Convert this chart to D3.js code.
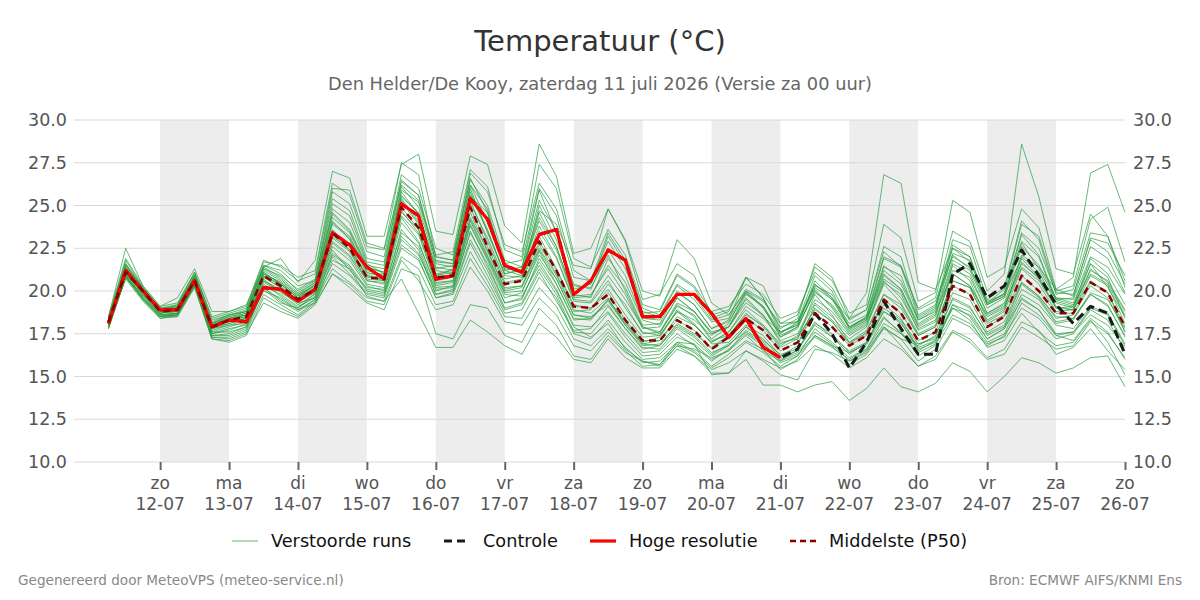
<!DOCTYPE html>
<html>
<head>
<meta charset="utf-8">
<script src="https://cdn.jsdelivr.net/npm/d3@7"></script>
<style>
  body { margin: 0; background: #fff; font-family: "DejaVu Sans", sans-serif; }
</style>
</head>
<body>
<div id="chart"></div>
<script>
// 6-hourly steps, first value 11-07 06:00 UTC
var firstTime = Date.UTC(2026, 6, 11, 6);
var stepHours = 6;

var hres = [18.1, 21.2, 20.0, 18.9, 18.9, 20.6, 17.9, 18.3, 18.2, 20.2, 20.1, 19.4, 20.1, 23.4, 22.7, 21.4, 20.7, 25.1, 24.4, 20.7,
  20.9, 25.4, 24.2, 21.5, 21.1, 23.3, 23.6, 19.8, 20.6, 22.4, 21.8, 18.5, 18.5, 19.8, 19.8, 18.7, 17.3, 18.4, 16.7, 16.1];

var control = [18.1, 21.2, 20.0, 18.9, 18.9, 20.6, 17.9, 18.3, 18.2, 20.2, 20.1, 19.4, 20.1, 23.4, 22.7, 21.4, 20.7, 25.1, 24.4, 20.7,
  20.9, 25.4, 24.2, 21.5, 21.1, 23.3, 23.6, 19.8, 20.6, 22.4, 21.8, 18.5, 18.5, 19.8, 19.8, 18.7, 17.3, 18.4, 16.7, 16.1,
  16.6, 18.7, 17.5, 15.5, 17.0, 19.4, 17.8, 16.3, 16.3, 21.0, 21.6, 19.6, 20.3, 22.4, 20.9, 19.2, 18.1, 19.1, 18.7, 16.3];

var p50 = [18.2, 21.1, 20.0, 18.8, 18.9, 20.6, 17.9, 18.3, 18.5, 20.9, 20.3, 19.5, 20.1, 23.4, 22.5, 20.8, 20.7, 24.9, 23.7, 20.8,
  20.9, 24.9, 22.6, 20.4, 20.6, 22.9, 21.2, 19.1, 19.0, 19.8, 18.3, 17.1, 17.1, 18.3, 17.7, 16.6, 17.3, 18.4, 17.7, 16.5,
  17.0, 18.7, 17.9, 16.8, 17.4, 19.5, 18.7, 17.1, 17.6, 20.3, 19.8, 17.9, 18.5, 20.9, 20.0, 18.7, 18.7, 20.5, 19.9, 17.9];

// perturbed members (Verstoorde runs)
var runs = [
  [18.3,21.4,20.1, 18.9,19.0,20.8,18.0, 18.2,18.4,21.2,20.6, 19.8,20.3,24.1,23.0, 21.0,21.0,25.6,24.5, 21.2,21.0,25.8,23.6, 20.9,20.8,23.5,21.9, 19.4,19.3,20.6,19.0, 17.6,17.4,18.9,18.1, 16.9,17.0,18.0,17.4, 16.2,16.8,19.2,18.3, 17.2,17.9,20.4,19.3, 17.5,18.0,21.5,20.6, 18.3,18.9,22.0,21.1, 19.3,19.0,21.6,20.8, 18.4],
  [18.1,21.0,19.8, 18.7,18.8,20.5,17.7, 18.0,18.1,20.6,20.0, 19.2,19.8,22.8,22.0, 20.4,20.2,24.0,22.8, 20.3,20.5,24.1,22.0, 19.9,20.0,22.1,20.7, 18.6,18.5,19.2,17.8, 16.7,16.6,17.8,17.1, 16.2,16.8,17.9,17.2, 16.1,16.5,18.1,17.5, 16.4,16.9,18.8,18.1, 16.7,17.1,19.6,19.1, 17.4,17.9,20.1,19.5, 18.1,18.3,19.8,19.2, 17.3],
  [18.4,21.8,20.2, 19.0,19.2,21.0,18.3, 18.6,18.9,21.5,21.2, 20.3,20.6,25.8,25.1, 22.3,22.0,26.8,26.0, 22.5,22.1,26.5,25.0, 21.8,21.4,25.9,23.4, 20.3,20.2,22.1,20.0, 17.9,17.6,19.3,18.8, 17.5,17.9,19.6,18.6, 17.0,17.2,19.8,18.6, 17.0,17.5,19.2,18.4, 16.6,17.0,19.0,18.6, 17.2,17.8,19.8,19.2, 18.0,17.8,19.1,18.7, 16.9],
  [17.9,20.8,19.6, 18.5,18.6,20.3,17.4, 17.4,17.8,20.2,19.4, 18.8,19.5,21.6,20.9, 19.8,19.6,22.5,21.8, 19.6,19.8,22.3,20.6, 18.7,18.9,20.8,19.6, 17.5,17.2,18.3,17.0, 16.0,16.1,17.0,16.5, 15.6,16.3,17.1,16.6, 15.4,16.0,17.4,16.8, 15.7,16.3,17.8,17.2, 15.9,16.6,18.4,17.9, 16.8,17.4,19.0,18.4, 17.2,17.5,18.9,18.3, 16.5],
  [18.5,22.5,20.3, 19.1,19.6,21.3,18.8, 18.8,19.2,21.4,21.9, 20.5,21.8,27.0,26.6, 23.2,23.2,27.4,28.0, 23.5,23.3,27.9,27.4, 23.8,22.8,28.6,26.7, 22.2,22.5,24.8,22.9, 19.5,19.8,21.6,20.9, 18.6,18.9,20.8,19.6, 17.6,18.0,20.4,19.5, 17.9,18.4,21.0,20.1, 18.0,18.6,21.8,21.2, 19.0,19.6,22.6,21.5, 19.6,19.5,22.0,21.4, 19.8],
  [18.0,20.9,19.5, 18.6,18.7,20.4,17.6, 17.6,17.9,20.0,19.6, 18.9,19.3,21.8,21.3, 19.7,19.4,20.7,18.7, 16.7,16.7,18.3,17.6, 16.8,16.3,18.1,17.3, 16.0,15.8,17.2,16.1, 15.5,15.5,16.6,16.2, 15.2,15.2,16.5,15.9, 15.1,14.8,16.6,16.4, 15.9,16.4,17.9,17.2, 16.8,17.4,19.5,19.0, 17.5,18.0,20.4,19.6, 18.2,18.4,19.9,19.5, 17.8],
  [18.0,20.7,19.4, 18.4,18.5,20.2,17.2, 17.1,17.5,19.3,18.8, 18.4,19.2,21.0,20.2, 19.3,18.9,21.3,20.9, 17.5,17.2,19.2,19.0, 17.4,17.0,19.0,18.0, 16.2,16.0,17.4,16.4, 15.9,15.7,17.0,16.9, 15.1,15.2,16.0,14.5, 14.5,14.1,14.5,14.7, 13.6,14.3,15.5,14.4, 14.1,14.6,15.8,15.3, 14.1,15.0,16.1,15.8, 15.2,15.5,16.1,16.2, 14.4],
  [18.2,21.2,19.9, 18.8,18.9,20.7,17.9, 18.1,18.4,20.6,20.1, 19.4,20.0,23.1,22.3, 20.6,20.4,24.4,23.3, 20.4,20.6,24.3,22.4, 20.1,20.3,22.5,20.9, 18.8,18.9,20.4,19.2, 17.5,17.6,19.1,18.6, 17.2,17.9,19.5,18.5, 17.6,18.1,20.2,19.5, 18.4,19.9,26.8,26.3, 20.5,20.1,22.5,21.7, 19.4,19.8,22.8,21.3, 19.5,19.2,21.0,20.4, 18.6],
  [18.3,21.3,20.0, 18.9,19.1,20.9,18.1, 18.5,18.8,21.4,20.8, 19.9,20.5,24.6,23.6, 21.5,21.3,26.1,24.9, 21.6,21.4,26.0,23.4, 21.0,21.2,24.1,22.4, 19.6,19.7,21.5,20.2, 18.0,18.1,19.9,19.2, 17.8,18.3,20.8,19.6, 17.8,18.4,21.6,20.8, 18.4,18.9,22.3,21.4, 19.0,19.6,23.5,22.9, 20.0,21.0,28.6,25.5, 21.3,21.0,24.5,23.2, 20.6],
  [18.2,21.0,19.9, 18.8,18.8,20.6,17.8, 18.3,18.6,20.9,20.4, 19.6,20.2,23.6,22.6, 20.9,20.8,25.2,23.9, 20.9,21.1,25.3,22.9, 20.5,20.7,23.2,21.3, 19.2,19.0,20.1,18.6, 17.3,17.4,18.8,18.0, 17.0,17.6,18.9,18.0, 16.8,17.4,19.3,18.5, 17.4,18.0,20.6,19.6, 17.8,18.3,21.2,20.8, 18.7,19.3,22.1,21.4, 20.1,20.8,26.9,27.4, 24.6],
  [18.4,21.6,20.2, 18.9,19.2,21.1,18.4, 18.7,19.0,21.7,21.5, 20.8,21.2,26.3,25.6, 22.6,22.4,27.5,26.8, 22.0,21.8,26.9,25.8, 22.7,22.3,26.3,24.8, 21.2,20.6,23.4,21.8, 19.0,18.6,20.4,19.7, 18.3,18.6,20.0,19.1, 17.5,18.2,20.9,20.0, 17.9,18.4,21.2,20.4, 18.3,18.8,21.0,20.3, 18.6,19.1,21.4,20.6, 19.0,18.9,21.3,20.5, 18.8],
  [17.8,20.9,19.7, 18.6,18.6,20.4,17.5, 17.7,18.1,20.4,19.7, 19.0,19.7,22.2,21.5, 20.1,19.9,23.0,22.1, 20.1,20.2,23.4,21.6, 19.3,19.6,21.7,20.1, 18.0,17.9,18.8,17.5, 16.4,16.5,17.5,16.8, 15.9,16.6,17.5,16.8, 15.8,16.2,17.8,17.0, 16.1,16.6,18.4,17.6, 16.2,16.8,19.2,18.5, 17.0,17.5,19.6,18.9, 17.5,17.6,19.0,18.6, 16.8],
  [18.2,21.5,20.1, 18.8,19.0,20.6,18.0, 18.4,18.7,21.0,20.5, 19.7,20.4,24.8,24.0, 21.6,21.0,25.9,25.2, 21.8,21.6,25.6,24.2, 21.4,21.0,24.6,22.6, 19.8,19.6,21.9,20.5, 18.3,18.0,19.6,18.8, 17.6,17.9,19.8,19.1, 17.3,17.8,20.1,19.0, 17.6,18.2,21.4,20.9, 18.3,18.9,22.7,22.0, 19.2,19.7,23.3,22.1, 19.5,19.6,22.6,21.9, 19.9],
  [18.1,21.1,19.9, 18.7,18.9,20.6,17.9, 18.2,18.4,20.8,20.2, 19.5,20.0,23.3,22.4, 20.9,20.6,24.6,23.6, 20.6,20.8,24.6,22.3, 20.2,20.3,22.7,21.0, 18.9,18.7,19.6,18.0, 16.9,16.8,17.9,17.3, 16.3,16.9,17.6,16.9, 16.0,16.4,17.6,16.9, 15.9,16.5,17.9,16.8, 15.6,16.2,17.7,17.2, 16.1,16.6,18.2,17.7, 16.3,16.7,17.8,16.5, 15.4],
  [18.3,21.2,20.0, 18.8,19.0,20.7,18.1, 18.4,18.6,21.1,20.4, 19.6,20.2,23.9,23.1, 21.2,20.9,25.4,24.1, 21.0,21.2,25.1,23.1, 20.7,20.9,23.8,22.0, 19.5,19.4,20.9,19.5, 17.9,17.5,19.2,18.5, 17.1,17.4,18.6,18.0, 16.9,17.3,18.9,18.2, 17.0,17.7,19.8,19.2, 17.4,17.9,20.6,20.2, 18.2,18.8,21.3,20.4, 18.8,18.9,20.9,20.3, 18.1],
  [18.0,20.8,19.8, 18.6,18.7,20.5,17.6, 17.9,18.2,20.7,19.9, 19.3,19.6,22.6,21.8, 20.3,20.0,23.6,22.4, 19.8,20.0,23.0,21.2, 19.0,19.3,21.3,19.8, 17.6,17.5,18.7,17.3, 16.2,16.3,17.3,16.9, 16.0,16.5,17.7,17.0, 15.9,16.6,18.2,17.3, 16.3,17.0,19.0,18.3, 16.9,17.3,19.9,19.5, 17.6,18.2,20.5,19.7, 18.4,18.6,20.3,19.6, 17.6],
  [17.9,21.0,19.6, 18.5,18.7,20.4,17.3, 17.3,17.7,20.1,19.3, 19.0,19.9,22.4,21.2, 20.2,20.1,23.4,22.6, 20.0,20.3,23.8,21.8, 19.6,19.9,22.3,20.4, 18.4,18.3,19.5,18.1, 17.0,17.3,18.8,18.3, 17.4,18.1,20.0,19.4, 18.1,18.6,21.4,20.6, 18.7,19.2,23.9,23.1, 19.4,19.9,25.3,24.6, 20.8,21.4,24.8,23.7, 20.1,19.7,23.1,22.8, 20.9],
  [18.3,21.3,20.0, 18.9,19.0,20.8,18.0, 18.3,18.5,21.0,20.5, 19.7,20.3,24.3,23.4, 21.3,21.1,25.8,24.5, 21.4,21.2,25.5,24.6, 21.2,20.9,25.0,23.0, 20.1,20.4,23.2,21.6, 18.7,18.8,20.9,20.2, 18.4,18.8,20.8,20.3, 18.1,18.2,20.4,19.6, 18.1,18.6,22.0,21.5, 18.9,19.4,22.1,21.3, 19.3,19.8,21.9,20.8, 19.6,19.3,21.6,20.2, 18.5],
  [18.1,21.1,19.8, 18.7,18.8,20.5,17.8, 18.0,18.3,20.5,20.0, 19.4,19.9,22.9,22.1, 20.6,20.5,24.3,22.9, 20.2,20.3,23.9,21.9, 19.8,19.7,21.5,20.0, 17.9,17.3,18.1,16.6, 15.9,15.6,16.8,16.2, 15.4,15.8,16.5,16.0, 15.5,15.9,16.8,16.3, 15.5,16.1,17.2,16.6, 15.6,16.0,17.6,17.0, 16.0,16.3,17.9,17.3, 16.6,16.8,18.2,17.5, 16.1],
  [18.2,21.2,20.0, 18.8,18.9,20.6,17.9, 18.3,18.5,20.9,20.3, 19.5,20.1,23.5,22.6, 20.8,20.7,24.9,23.6, 20.8,20.9,24.9,22.6, 20.4,20.6,22.9,21.2, 19.1,19.0,19.9,18.3, 17.1,17.1,18.3,17.7, 16.6,17.3,18.4,17.7, 16.5,17.0,18.7,17.9, 16.8,17.4,19.5,18.7, 17.1,17.6,20.3,19.8, 17.9,18.5,20.9,20.0, 18.7,18.7,20.5,19.9, 17.9],
  [18.2,21.3,20.1, 18.9,19.0,20.7,18.0, 18.4,18.6,21.1,20.4, 19.6,20.4,24.0,23.2, 21.1,20.8,25.3,24.0, 20.9,21.3,25.6,23.5, 21.0,21.3,24.7,23.9, 21.5,21.3,24.8,23.0, 20.0,19.7,23.0,21.9, 19.3,18.6,20.1,19.5, 17.9,18.2,20.3,19.8, 17.8,18.3,20.7,20.0, 17.9,18.5,21.6,21.0, 18.7,19.2,21.6,20.8, 19.0,19.1,21.2,20.6, 18.9],
  [17.8,20.8,19.5, 18.5,18.6,20.3,17.3, 17.2,17.6,19.8,19.2, 18.6,19.4,21.3,20.5, 19.6,19.4,22.0,21.3, 19.2,19.4,21.9,20.3, 18.5,18.4,20.2,19.1, 17.2,16.8,17.8,16.7, 15.8,15.9,16.9,16.4, 15.5,16.1,17.0,16.4, 15.6,16.2,17.3,16.7, 16.0,16.6,18.1,17.5, 16.4,16.9,18.6,18.1, 16.9,17.3,19.3,18.6, 17.4,17.6,18.6,18.0, 16.7],
  [18.3,21.5,20.2, 19.0,19.1,20.9,18.2, 18.6,18.8,21.3,20.9, 20.1,20.7,25.4,24.7, 21.9,21.7,26.4,25.6, 22.0,21.8,26.6,24.6, 21.6,21.8,26.0,24.4, 20.8,20.6,22.9,21.3, 18.8,18.5,20.3,19.5, 18.2,18.4,19.9,19.0, 17.4,17.9,20.0,19.1, 17.7,18.3,20.9,20.1, 18.1,18.7,22.2,21.8, 19.2,19.9,23.4,22.5, 19.9,19.8,23.0,22.3, 20.4],
  [18.0,20.9,19.7, 18.6,18.7,20.4,17.5, 17.8,18.0,20.3,19.8, 19.1,19.6,22.1,21.4, 20.0,19.8,22.7,21.9, 19.6,19.9,22.8,20.9, 18.9,19.2,21.1,19.4, 17.7,17.8,19.1,17.8, 16.6,16.8,18.1,17.5, 16.7,17.4,18.7,17.9, 16.7,17.2,19.0,18.2, 16.9,17.6,19.8,19.0, 17.4,17.9,20.6,20.2, 18.1,18.6,20.5,19.7, 18.5,18.4,19.8,19.1, 17.4],
  [17.9,20.8,19.6, 18.5,18.5,20.3,17.4, 17.5,17.9,20.2,19.5, 18.9,19.5,22.0,21.0, 19.9,19.7,23.2,22.2, 19.8,20.1,23.5,21.4, 19.3,19.5,21.9,20.4, 18.3,18.4,19.5,18.2, 16.9,17.1,18.5,18.0, 17.0,17.6,19.1,18.4, 17.3,17.9,19.9,19.2, 17.9,18.5,21.5,20.6, 18.4,19.0,22.5,22.0, 19.3,20.1,23.9,23.2, 20.0,20.3,24.2,24.9, 21.7],
  [18.4,21.4,20.0, 18.8,19.1,20.8,18.1, 18.5,18.7,21.3,20.7, 19.8,20.5,24.5,23.5, 21.4,21.1,25.5,24.6, 21.3,21.5,26.2,24.0, 21.3,21.2,24.3,22.6, 19.7,19.8,21.3,19.8, 17.8,17.9,19.6,18.8, 17.5,17.9,19.3,18.6, 17.1,17.5,19.5,18.8, 17.5,18.1,20.5,19.8, 17.7,18.2,21.0,20.3, 18.5,19.0,21.7,20.7, 19.1,18.9,20.6,19.9, 17.6],
  [18.1,21.0,19.9, 18.7,18.9,20.6,17.8, 18.1,18.4,20.8,20.2, 19.5,20.0,23.2,22.4, 20.7,20.6,24.7,23.4, 20.5,20.6,24.2,22.1, 20.0,20.2,22.4,20.7, 18.6,18.4,19.4,18.0, 16.8,16.9,18.0,17.4, 16.4,16.8,17.9,17.1, 16.3,16.6,18.0,17.3, 16.5,17.0,18.8,18.2, 16.5,17.1,19.2,18.8, 17.2,17.8,19.5,18.9, 17.4,17.1,18.4,17.6, 16.0],
  [18.5,21.9,20.3, 19.1,19.3,21.1,18.5, 18.8,19.1,21.8,21.4, 20.6,21.0,26.0,25.9, 22.8,22.5,26.2,25.3, 22.1,22.3,27.1,26.1, 22.4,22.0,27.4,26.0, 21.9,21.4,23.6,22.1, 19.2,18.9,21.0,20.3, 18.8,19.1,20.4,19.8, 18.4,18.8,21.1,20.2, 18.3,18.9,22.6,22.0, 18.6,19.2,22.0,21.4, 19.2,19.7,22.9,22.0, 19.4,19.1,21.9,21.0, 19.2],
  [17.8,20.8,19.5, 18.4,18.6,20.3,17.2, 17.0,17.4,19.6,19.0, 18.5,19.3,21.0,20.4, 19.4,19.2,21.8,20.6, 18.9,19.2,21.4,20.0, 18.2,18.0,19.6,18.6, 16.8,16.5,17.6,16.5, 15.6,15.7,16.8,16.6, 16.1,16.5,17.4,16.5, 15.9,16.3,17.4,16.8, 16.4,16.9,18.5,17.5, 16.9,17.2,19.0,18.3, 16.7,17.1,18.7,17.6, 16.8,17.0,18.3,17.0, 15.1],
  [18.3,21.6,20.1, 18.9,19.0,20.9,18.1, 18.6,18.8,21.5,21.0, 20.0,20.6,25.1,24.4, 21.7,21.5,26.5,25.6, 21.7,21.6,26.2,24.8, 21.2,21.4,25.3,23.5, 20.4,20.1,22.4,20.9, 18.4,18.3,20.0,19.2, 17.8,18.2,19.9,19.1, 17.6,18.0,20.6,19.6, 17.8,18.5,21.9,21.4, 18.5,19.1,23.0,22.6, 19.5,20.2,24.1,23.0, 19.8,20.1,23.4,23.2, 20.2]
];

var dayNames = ["zo", "ma", "di", "wo", "do", "vr", "za"];
var yTicks = [10, 12.5, 15, 17.5, 20, 22.5, 25, 27.5, 30];
var legendItems = [
  { name: "Verstoorde runs", type: "runs" },
  { name: "Controle", type: "control" },
  { name: "Hoge resolutie", type: "hres" },
  { name: "Middelste (P50)", type: "p50" }
];

function tempChart(selection) {
  var width = 1200, height = 600;
  var margins = { top: 120, right: 75, bottom: 138, left: 74 };
  var svg, scaleX, scaleY, line;

  var styles = {
    runs: { stroke: "#2a9d40", width: 1, dash: null, opacity: 0.7 },
    control: { stroke: "#1a1a1a", width: 3, dash: "9,5", opacity: 1 },
    hres: { stroke: "#ff0000", width: 3.2, dash: null, opacity: 1 },
    p50: { stroke: "#8b0000", width: 2.5, dash: "7,5", opacity: 1 }
  };

  function timeAt(i) {
    return new Date(firstTime + i * stepHours * 3600 * 1000);
  }

  function scale() {
    scaleX = d3.scaleUtc()
      .domain([new Date(Date.UTC(2026, 6, 10, 18)), new Date(Date.UTC(2026, 6, 26))])
      .range([margins.left, width - margins.right]);
    scaleY = d3.scaleLinear()
      .domain([10, 30])
      .range([height - margins.bottom, margins.top]);
    line = d3.line()
      .x(function (d, i) { return scaleX(timeAt(i)); })
      .y(function (d) { return scaleY(d); });
  }

  function renderBody() {
    svg = selection.append("svg")
      .attr("width", width)
      .attr("height", height)
      .attr("xmlns", "http://www.w3.org/2000/svg")
      .style("font-family", "'DejaVu Sans', sans-serif");
    svg.append("rect").attr("width", width).attr("height", height).attr("fill", "#fff");
  }

  function renderBands() {
    // shaded every other day, starting 12-07
    var days = d3.utcDay.range(new Date(Date.UTC(2026, 6, 12)), new Date(Date.UTC(2026, 6, 26)), 2);
    svg.append("g").selectAll("rect")
      .data(days)
      .enter().append("rect")
      .attr("x", function (d) { return scaleX(d); })
      .attr("y", scaleY(30))
      .attr("width", function (d) { return scaleX(d3.utcDay.offset(d, 1)) - scaleX(d); })
      .attr("height", scaleY(10) - scaleY(30))
      .attr("fill", "#ededed");
  }

  function renderGrid() {
    svg.append("g").selectAll("line")
      .data(yTicks)
      .enter().append("line")
      .attr("x1", scaleX.range()[0])
      .attr("x2", scaleX.range()[1])
      .attr("y1", function (d) { return scaleY(d); })
      .attr("y2", function (d) { return scaleY(d); })
      .attr("stroke", "#d9d9d9")
      .attr("stroke-width", 1);
  }

  function renderLines() {
    svg.append("g").attr("class", "runs")
      .selectAll("path")
      .data(runs)
      .enter().append("path")
      .attr("d", line)
      .attr("fill", "none")
      .attr("stroke", styles.runs.stroke)
      .attr("stroke-width", styles.runs.width)
      .attr("stroke-opacity", styles.runs.opacity)
      .attr("stroke-linejoin", "round");

    [["control", control], ["hres", hres], ["p50", p50]].forEach(function (s) {
      var st = styles[s[0]];
      svg.append("path")
        .attr("class", s[0])
        .attr("d", line(s[1]))
        .attr("fill", "none")
        .attr("stroke", st.stroke)
        .attr("stroke-width", st.width)
        .attr("stroke-dasharray", st.dash)
        .attr("stroke-linejoin", "round");
    });
  }

  function renderAxes() {
    var yFmt = d3.format(".1f");
    var axisL = svg.append("g")
      .attr("transform", "translate(" + margins.left + ",0)")
      .call(d3.axisLeft(scaleY).tickValues(yTicks).tickFormat(yFmt).tickSize(0).tickPadding(7));
    var axisR = svg.append("g")
      .attr("transform", "translate(" + (width - margins.right) + ",0)")
      .call(d3.axisRight(scaleY).tickValues(yTicks).tickFormat(yFmt).tickSize(0).tickPadding(8));
    [axisL, axisR].forEach(function (a) {
      a.select(".domain").remove();
      a.selectAll("text").attr("font-size", 17.5).attr("fill", "#555").attr("font-family", "'DejaVu Sans', sans-serif");
    });

    var ticks = d3.utcDay.range(new Date(Date.UTC(2026, 6, 12)), new Date(Date.UTC(2026, 6, 26, 1)));
    var axisB = svg.append("g")
      .attr("transform", "translate(0," + (height - margins.bottom) + ")")
      .call(d3.axisBottom(scaleX).tickValues(ticks).tickSize(8).tickFormat(""));
    axisB.select(".domain").remove();
    axisB.selectAll(".tick line").attr("stroke", "#666").attr("stroke-width", 2);

    var lbl = svg.append("g").selectAll("text")
      .data(ticks)
      .enter().append("text")
      .attr("text-anchor", "middle")
      .attr("font-size", 17)
      .attr("fill", "#555");
    lbl.append("tspan")
      .attr("x", function (d) { return scaleX(d); })
      .attr("y", height - margins.bottom + 27)
      .text(function (d) { return dayNames[d.getUTCDay()]; });
    lbl.append("tspan")
      .attr("x", function (d) { return scaleX(d); })
      .attr("y", height - margins.bottom + 48)
      .text(function (d) { return d3.utcFormat("%d-%m")(d); });
  }

  function renderLabels() {
    svg.append("text")
      .attr("x", width / 2).attr("y", 51)
      .attr("text-anchor", "middle")
      .attr("font-size", 29).attr("fill", "#333")
      .text("Temperatuur (°C)");
    svg.append("text")
      .attr("x", width / 2).attr("y", 90)
      .attr("text-anchor", "middle")
      .attr("font-size", 17.8).attr("fill", "#666")
      .text("Den Helder/De Kooy, zaterdag 11 juli 2026 (Versie za 00 uur)");

    svg.append("text")
      .attr("x", 18).attr("y", 585)
      .attr("font-size", 13.6).attr("fill", "#888")
      .text("Gegenereerd door MeteoVPS (meteo-service.nl)");
    svg.append("text")
      .attr("x", 1182).attr("y", 585)
      .attr("text-anchor", "end")
      .attr("font-size", 13.6).attr("fill", "#888")
      .text("Bron: ECMWF AIFS/KNMI Ens");
  }

  function renderLegend() {
    var xs = [232, 444, 590, 790];
    var g = svg.append("g").attr("class", "legend")
      .selectAll("g")
      .data(legendItems)
      .enter().append("g")
      .attr("transform", function (d, i) { return "translate(" + xs[i] + ",541)"; });

    g.append("line")
      .attr("x1", 0).attr("x2", 26)
      .attr("stroke", function (d) { return d.type === "runs" ? "#7cc47f" : styles[d.type].stroke; })
      .attr("stroke-width", function (d) { return d.type === "runs" ? 1.2 : styles[d.type].width; })
      .attr("stroke-dasharray", function (d) { return d.type === "control" ? "8,5" : d.type === "p50" ? "6,4" : null; });

    g.append("text")
      .attr("x", 39).attr("y", 6)
      .attr("font-size", 17.7).attr("fill", "#111")
      .text(function (d) { return d.name; });
  }

  var chart = {};
  chart.render = function () {
    scale();
    renderBody();
    renderBands();
    renderGrid();
    renderLines();
    renderAxes();
    renderLabels();
    renderLegend();
    return chart;
  };
  return chart;
}

tempChart(d3.select("#chart")).render();
</script>
</body>
</html>
